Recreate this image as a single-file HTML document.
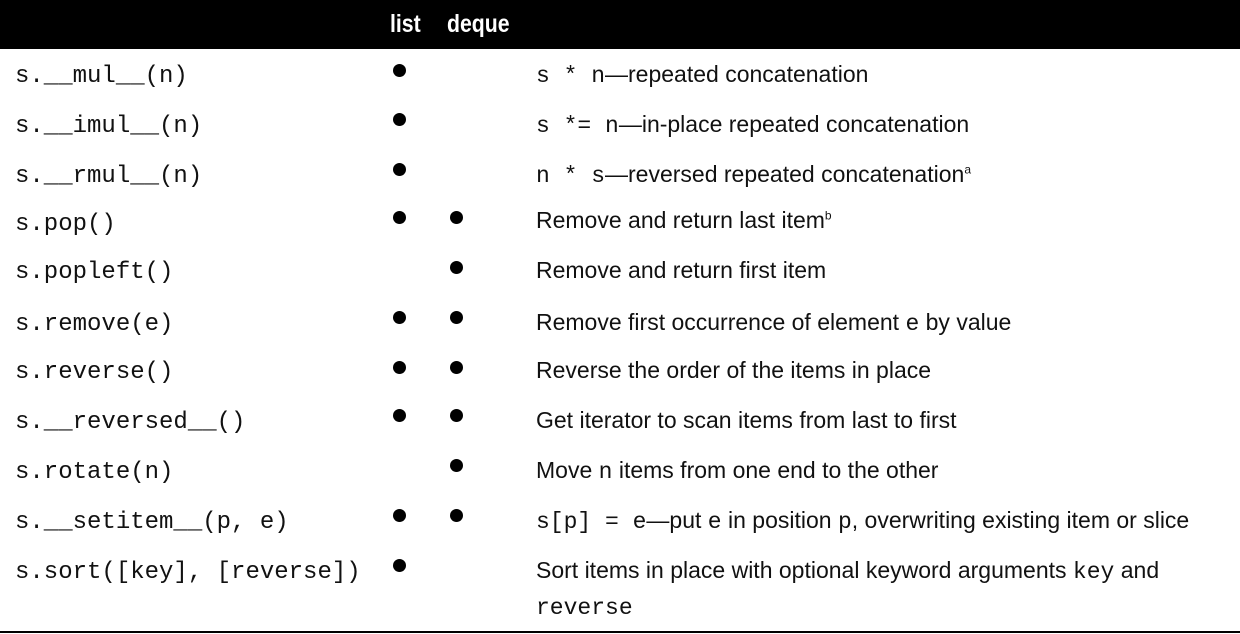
<!DOCTYPE html>
<html><head><meta charset="utf-8"><style>
body{margin:0;width:1240px;height:634px;background:#fff;position:relative;overflow:hidden;font-family:"Liberation Sans Narrow","Liberation Sans",sans-serif;color:#111}
.hdr{position:absolute;left:0;top:0;width:1240px;height:49px;background:#000}
.h{position:absolute;top:8px;color:#fff;font-weight:bold;font-size:25px;line-height:32px;transform:scaleX(.85);transform-origin:left}
.m{position:absolute;left:15px;font-family:"Liberation Mono",monospace;font-size:24px;line-height:30px;white-space:pre;margin-top:3px}
.d{position:absolute;left:536px;font-size:23px;line-height:30px;white-space:pre}
.d code{font-family:"Liberation Mono",monospace;font-size:23px}
.b{position:absolute;width:13px;height:13px;border-radius:50%;background:#000}
sup{font-size:12px;line-height:0}
.line{position:absolute;left:0;top:631px;width:1240px;height:2px;background:#000}
</style></head><body>
<div class="hdr"></div>
<div class="h" style="left:390px">list</div>
<div class="h" style="left:447px">deque</div>

<div class="m" style="top:59px">s.__mul__(n)</div>
<div class="m" style="top:109px">s.__imul__(n)</div>
<div class="m" style="top:159px">s.__rmul__(n)</div>
<div class="m" style="top:207px">s.pop()</div>
<div class="m" style="top:255px">s.popleft()</div>
<div class="m" style="top:307px">s.remove(e)</div>
<div class="m" style="top:355px">s.reverse()</div>
<div class="m" style="top:405px">s.__reversed__()</div>
<div class="m" style="top:455px">s.rotate(n)</div>
<div class="m" style="top:505px">s.__setitem__(p, e)</div>
<div class="m" style="top:555px">s.sort([key], [reverse])</div>

<div class="d" style="top:59px"><code>s * n</code>—repeated concatenation</div>
<div class="d" style="top:109px"><code>s *= n</code>—in-place repeated concatenation</div>
<div class="d" style="top:159px"><code>n * s</code>—reversed repeated concatenation<sup>a</sup></div>
<div class="d" style="top:205px">Remove and return last item<sup>b</sup></div>
<div class="d" style="top:255px">Remove and return first item</div>
<div class="d" style="top:307px">Remove first occurrence of element <code>e</code> by value</div>
<div class="d" style="top:355px">Reverse the order of the items in place</div>
<div class="d" style="top:405px">Get iterator to scan items from last to first</div>
<div class="d" style="top:455px">Move <code>n</code> items from one end to the other</div>
<div class="d" style="top:505px"><code>s[p] = e</code>—put <code>e</code> in position <code>p</code>, overwriting existing item or slice</div>
<div class="d" style="top:555px">Sort items in place with optional keyword arguments <code>key</code> and</div>
<div class="d" style="top:591px"><code>reverse</code></div>

<div class="b" style="left:393px;top:64px"></div>
<div class="b" style="left:393px;top:113px"></div>
<div class="b" style="left:393px;top:163px"></div>
<div class="b" style="left:393px;top:211px"></div><div class="b" style="left:450px;top:211px"></div>
<div class="b" style="left:450px;top:261px"></div>
<div class="b" style="left:393px;top:311px"></div><div class="b" style="left:450px;top:311px"></div>
<div class="b" style="left:393px;top:361px"></div><div class="b" style="left:450px;top:361px"></div>
<div class="b" style="left:393px;top:409px"></div><div class="b" style="left:450px;top:409px"></div>
<div class="b" style="left:450px;top:459px"></div>
<div class="b" style="left:393px;top:509px"></div><div class="b" style="left:450px;top:509px"></div>
<div class="b" style="left:393px;top:559px"></div>
<div class="line"></div>
</body></html>
